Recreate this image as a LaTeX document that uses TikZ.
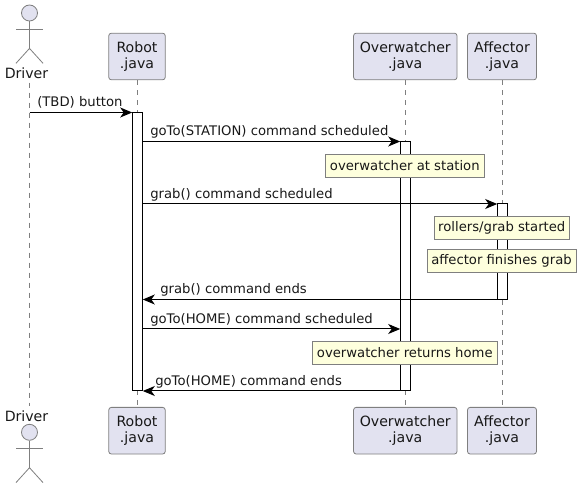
\documentclass[tikz,border=0pt]{standalone}
\usepackage{fontspec}
\setmainfont{DejaVu Sans}
\usepackage{tikz}
\usetikzlibrary{arrows.meta, positioning}
\definecolor{umlink}{HTML}{181818}
\definecolor{umledge}{HTML}{7F7F7F}
\definecolor{umlbox}{HTML}{E2E2F0}
\definecolor{umlnote}{HTML}{FEFFDD}

\begin{document}
\begin{tikzpicture}[x=.75pt, y=-.75pt, font=\fontsize{9.9pt}{11.6pt}\selectfont, text=umlink,
          part/.style={draw=umledge, fill=umlbox, rounded corners=2pt, line width=.6pt, align=center, minimum height=35pt, inner xsep=0pt, inner ysep=0pt, font=\fontsize{10.6pt}{12.2pt}\selectfont},
          drvname/.style={inner sep=0pt, minimum height=14pt, font=\fontsize{10.6pt}{12.2pt}\selectfont},
          notebox/.style={draw=umledge, fill=umlnote, line width=.6pt, minimum height=17pt, inner xsep=3.2pt, inner ysep=0pt},
          actbar/.style={draw=black, fill=white, line width=.75pt},
          life/.style={draw=umledge, line width=.6pt, dash pattern=on 3.75pt off 3.75pt},
          figline/.style={draw=umledge, line width=.6pt},
          msg/.style={draw=black, line width=.75pt, -{Stealth[length=9pt, width=7.5pt, inset=2.6pt]}},
          lbl/.style={anchor=base west, inner sep=0pt}]
          \useasboundingbox (0,0) rectangle (579,488);
          \node[drvname] (drvT) at (26.5,73) {Driver};
          \node[drvname] (drvB) at (26.5,416) {Driver};
          \foreach \nm/\lbl/\x/\w in {rob/Robot/137/56.5, ovr/Overwatcher/405.3/103.5, aff/Affector/502/69} {
            \node[part, minimum width=\w*.75pt] (\nm T) at (\x,56.5) {\lbl\\.java};
            \node[part, minimum width=\w*.75pt] (\nm B) at (\x,430.7) {\lbl\\.java};
          }
          \coordinate (drvL) at (29.5,0);
          \draw[life] (drvL |- drvT.south)--(drvL |- drvB.north);
          \foreach \nm in {rob,ovr,aff} \draw[life] (\nm T.south)--(\nm B.north);
          % stick figures
          \foreach \e/\y in {T/13, B/432.3} {
            \node[circle, figline, fill=umlbox, minimum size=12pt, inner sep=0pt] (head\e) at (29.5,\y) {};
            \draw[figline] (head\e.south)--++(0,27) coordinate (hip\e);
            \draw[figline] (16,\y+16.2)--(43,\y+16.2);
            \draw[figline] (16,\y+50.3)--(hip\e)--(43,\y+50.3);
          }
          % activations
          \node[actbar, minimum width=7.2pt, minimum height=208.5pt, inner sep=0pt] (robA) at (137.5,251.8) {};
          \node[actbar, minimum width=7.2pt, minimum height=187pt, inner sep=0pt] (ovrA) at (405.5,266.3) {};
          \node[actbar, minimum width=7.2pt, minimum height=72pt, inner sep=0pt] (affA) at (502.5,251.5) {};
          % messages
          \coordinate (m1) at (0,112.5); \coordinate (m2) at (0,141.5); \coordinate (m3) at (0,204);
          \coordinate (m4) at (0,299.5); \coordinate (m5) at (0,329); \coordinate (m6) at (0,391);
          \draw[msg] (drvL |- m1)--(robA.west |- m1);
          \draw[msg] (robA.east |- m2)--(ovrA.west |- m2);
          \draw[msg] (robA.east |- m3)--(affA.west |- m3);
          \draw[msg] (affA.west |- m4)--(robA.east |- m4);
          \draw[msg] (robA.east |- m5)--(ovrA.west |- m5);
          \draw[msg] (ovrA.west |- m6)--(robA.east |- m6);
          \node[lbl] (t1) at (37,107) {(TBD) button};
          \node[lbl] (t2) at (150,136) {goTo(STATION) command scheduled};
          \node[lbl] (t3) at (150,198.5) {grab() command scheduled};
          \node[lbl] (t4) at (160,294) {grab() command ends};
          \node[lbl] (t5) at (150,323.5) {goTo(HOME) command scheduled};
          \node[lbl] (t6) at (155,386) {goTo(HOME) command ends};
          % notes
          \node[notebox] (n1) at (404.8,165.8) {overwatcher at station};
          \node[notebox] (n2) at (501.8,228) {rollers/grab started};
          \node[notebox] (n3) at (501.5,260.8) {affector finishes grab};
          \node[notebox] (n4) at (404.8,352.8) {overwatcher returns home};
        \end{tikzpicture}
\end{document}
